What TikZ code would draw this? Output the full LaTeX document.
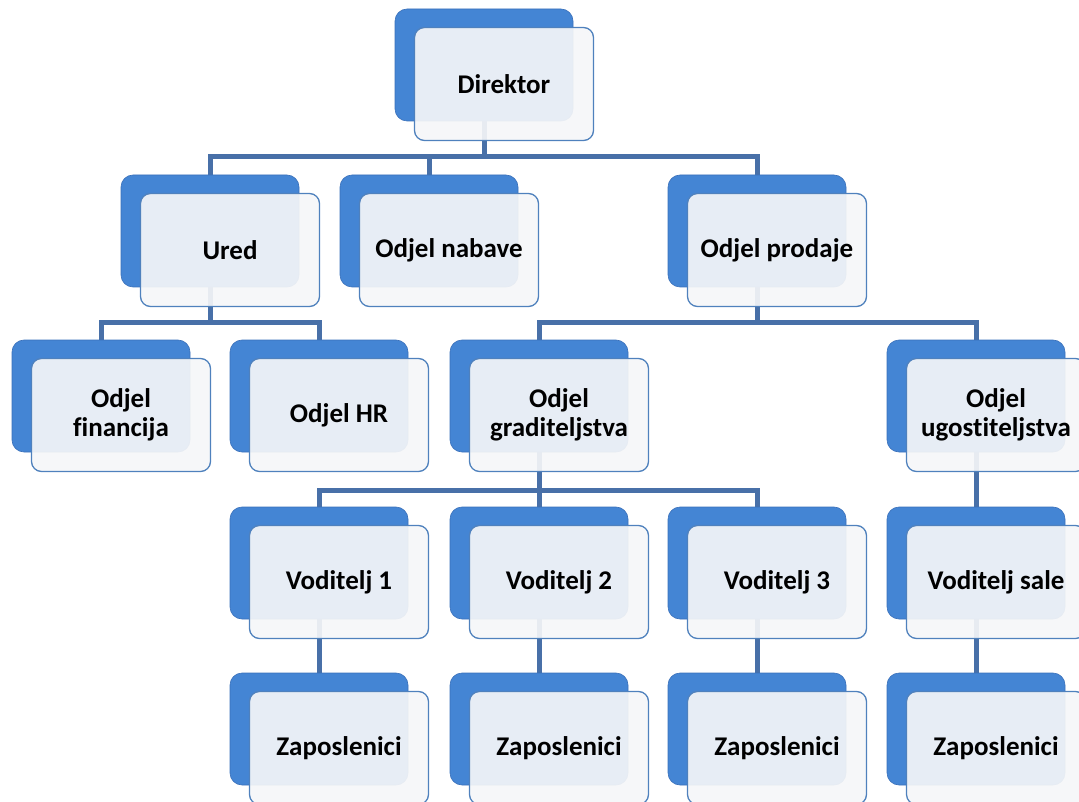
\documentclass[tikz,border=0pt]{standalone}
\usepackage{fontspec}
\setmainfont{Carlito}[Ligatures=NoCommon]
\usetikzlibrary{positioning,backgrounds}

\definecolor{backtop}{RGB}{128,182,240}
\definecolor{backmid}{RGB}{68,133,212}
\definecolor{backbot}{RGB}{48,100,176}
\definecolor{backline}{RGB}{58,112,186}
\definecolor{frontfill}{RGB}{245,246,248}
\definecolor{frontline}{RGB}{79,129,189}
\definecolor{connline}{RGB}{72,112,168}

\pgfdeclareverticalshading{backshade}{100bp}{color(0bp)=(backbot); color(4bp)=(backbot); color(14bp)=(backmid); color(86bp)=(backmid); color(94bp)=(backtop); color(100bp)=(backtop)}

\begin{document}
\begin{tikzpicture}[x=1pt, y=1pt,
	back/.style={rectangle, rounded corners=12pt, minimum width=178pt, minimum height=112pt, inner sep=0pt, draw=backline, line width=0.6pt, shading=backshade},
	front/.style={rectangle, rounded corners=10pt, minimum width=179pt, minimum height=113pt, inner sep=0pt, draw=frontline, line width=1.3pt, fill=frontfill, fill opacity=0.92, text opacity=1, text=black, align=center, font=\bfseries\fontsize{27}{29}\selectfont},
	conn/.style={draw=connline, line width=5pt}]

	\useasboundingbox (0,0) rectangle (1079,-802);

	% director
	\node (dir) [back] at (484,-65) {};
	\node (dir-f) [front] at ([shift={(20,-19)}]dir.center) {Direktor};

	% first level
	\node (ured) [back] at (210,-231) {};
	\node (ured-f) [front] at ([shift={(20,-19)}]ured.center) {Ured};
	\node (nab) [back] at (429,-231) {};
	\node (nab-f) [front] at ([shift={(20,-19)}]nab.center) {Odjel nabave};
	\node (prod) [back] at (757,-231) {};
	\node (prod-f) [front] at ([shift={(20,-19)}]prod.center) {Odjel prodaje};

	% second level
	\node (fin) [back] at (101,-396) {};
	\node (fin-f) [front] at ([shift={(20,-19)}]fin.center) {Odjel\\financija};
	\node (hr) [back] at (319,-396) {};
	\node (hr-f) [front] at ([shift={(20,-19)}]hr.center) {Odjel HR};
	\node (grad) [back] at (539,-396) {};
	\node (grad-f) [front] at ([shift={(20,-19)}]grad.center) {Odjel\\graditeljstva};
	\node (ugo) [back] at (976,-396) {};
	\node (ugo-f) [front] at ([shift={(20,-19)}]ugo.center) {Odjel\\ugostiteljstva};

	% voditelji
	\node (vod1) [back] at (319,-563) {};
	\node (vod1-f) [front] at ([shift={(20,-19)}]vod1.center) {Voditelj 1};
	\node (vod2) [back] at (539,-563) {};
	\node (vod2-f) [front] at ([shift={(20,-19)}]vod2.center) {Voditelj 2};
	\node (vod3) [back] at (757,-563) {};
	\node (vod3-f) [front] at ([shift={(20,-19)}]vod3.center) {Voditelj 3};
	\node (vods) [back] at (976,-563) {};
	\node (vods-f) [front] at ([shift={(20,-19)}]vods.center) {Voditelj sale};

	% zaposlenici
	\node (zap1) [back] at (319,-729) {};
	\node (zap1-f) [front] at ([shift={(20,-19)}]zap1.center) {Zaposlenici};
	\node (zap2) [back] at (539,-729) {};
	\node (zap2-f) [front] at ([shift={(20,-19)}]zap2.center) {Zaposlenici};
	\node (zap3) [back] at (757,-729) {};
	\node (zap3-f) [front] at ([shift={(20,-19)}]zap3.center) {Zaposlenici};
	\node (zap4) [back] at (976,-729) {};
	\node (zap4-f) [front] at ([shift={(20,-19)}]zap4.center) {Zaposlenici};

	% connectors behind the boxes
	\begin{scope}[on background layer]
		\draw[conn] (dir.center) -- ++(0,-92) -| (ured.north);
		\draw[conn] (dir.center) -- ++(0,-92) -| (nab.north);
		\draw[conn] (dir.center) -- ++(0,-92) -| (prod.north);
		\draw[conn] (ured.center) -- ++(0,-92) -| (fin.north);
		\draw[conn] (ured.center) -- ++(0,-92) -| (hr.north);
		\draw[conn] (prod.center) -- ++(0,-92) -| (grad.north);
		\draw[conn] (prod.center) -- ++(0,-92) -| (ugo.north);
		\draw[conn] (grad.center) -- ++(0,-94) -| (vod1.north);
		\draw[conn] (grad.center) -- ++(0,-94) -| (vod2.north);
		\draw[conn] (grad.center) -- ++(0,-94) -| (vod3.north);
		\draw[conn] (ugo.center) -- (vods.north);
		\draw[conn] (vod1.center) -- (zap1.north);
		\draw[conn] (vod2.center) -- (zap2.north);
		\draw[conn] (vod3.center) -- (zap3.north);
		\draw[conn] (vods.center) -- (zap4.north);
	\end{scope}

\end{tikzpicture}
\end{document}
